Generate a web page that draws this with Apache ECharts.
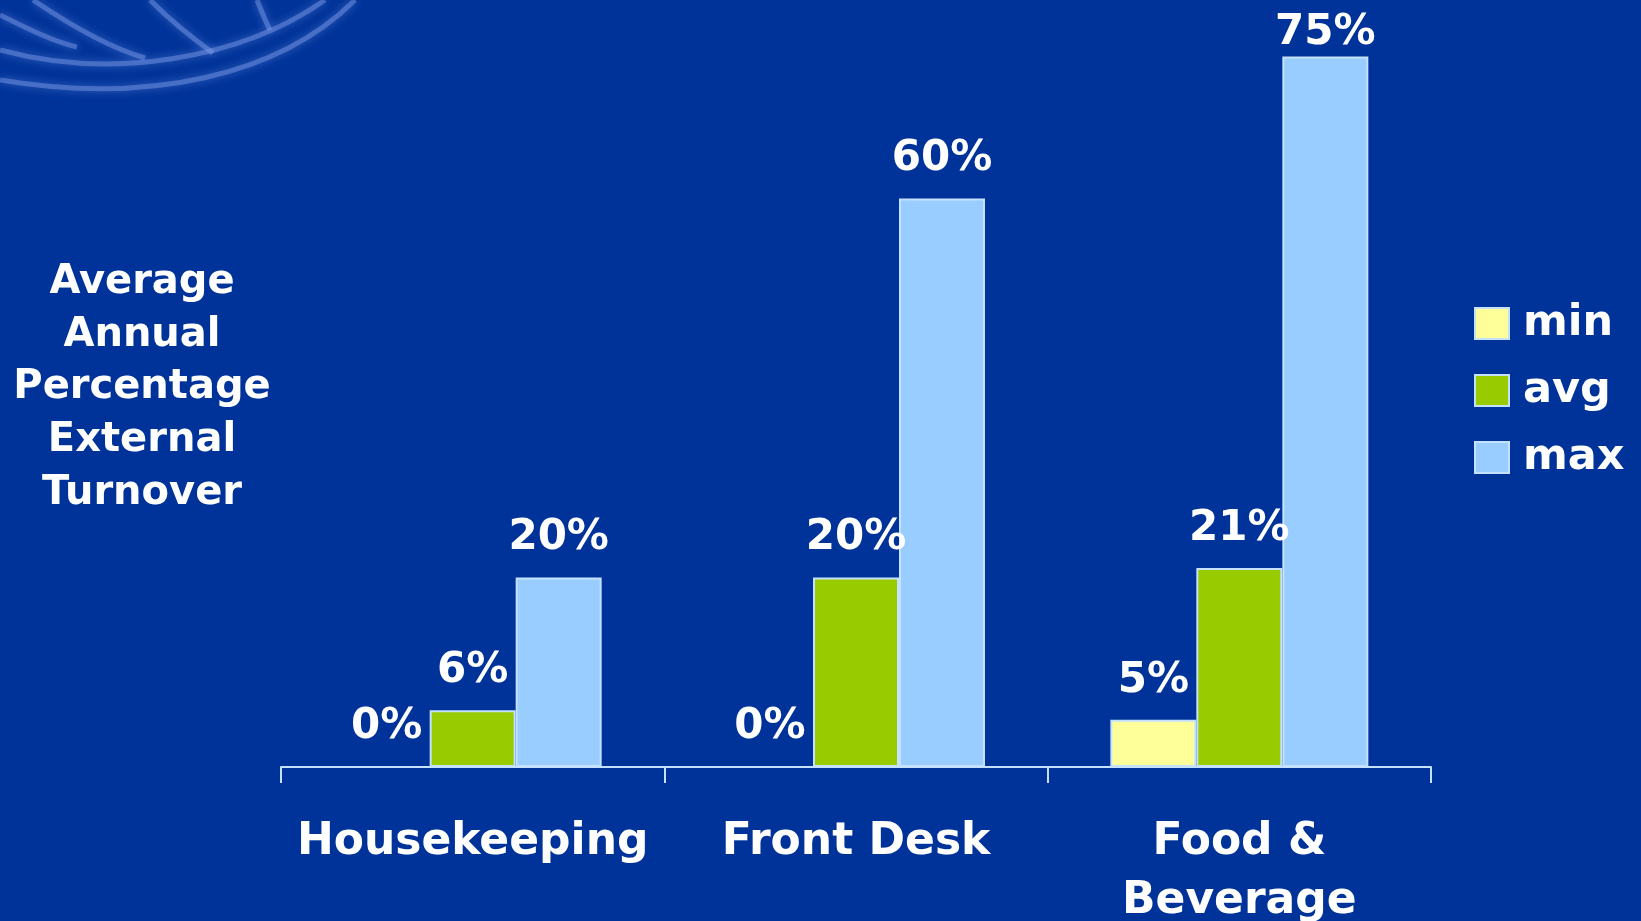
<!DOCTYPE html>
<html>
<head>
<meta charset="utf-8">
<script src="https://cdn.jsdelivr.net/npm/echarts@6/dist/echarts.min.js"></script>
<style>
  html, body { margin: 0; padding: 0; background: #003399; }
  #chart { width: 1641px; height: 921px; }
</style>
</head>
<body>
<div id="chart"></div>
<script>
// Annual external turnover by department: min / avg / max (percent)
const categories = ['Housekeeping', 'Front Desk', 'Food &\nBeverage'];
const minValues = [0, 0, 5];
const avgValues = [6, 20, 21];
const maxValues = [20, 60, 75];
const seriesNames = ['min', 'avg', 'max'];
const yTitle = 'Average\nAnnual\nPercentage\nExternal\nTurnover';

const FONT = 'DejaVu Sans';
const EDGE = '#c4e1ff';
const colors = ['#ffff99', '#99cc00', '#99ccff'];
const Y_MAX = 80;

const chart = echarts.init(document.getElementById('chart'), null, { renderer: 'canvas' });

// value labels sit above each bar; the tallest ones are tucked closer so they stay on the page
function labelDistance(v) {
  return v >= Y_MAX - 6 ? 2 : 18;
}

function barSeries(name, values, color) {
  return {
    name: name,
    type: 'bar',
    data: values.map(function (v) {
      return { value: v, label: { distance: labelDistance(v) } };
    }),
    barWidth: 86,
    barGap: '0%',
    itemStyle: { color: color, borderColor: EDGE, borderWidth: 2 },
    label: {
      show: true,
      position: 'top',
      formatter: '{c}%',
      color: '#ffffff',
      fontFamily: FONT,
      fontWeight: 'bold',
      fontSize: 42
    }
  };
}

// faint, soft decorative strokes in the upper-left corner
const swirl = [
  [[0, 80], [150, 105], [280, 75], [355, 0]],
  [[0, 50], [110, 80], [240, 60], [325, 0]],
  [[0, 15], [30, 30], [55, 42], [77, 47]],
  [[33, 0], [70, 25], [110, 48], [145, 58]],
  [[150, 0], [170, 20], [195, 40], [213, 53]],
  [[257, 0], [261, 10], [265, 20], [270, 30]]
].map(function (p) {
  return {
    type: 'bezierCurve',
    silent: true,
    z: -10,
    shape: { x1: p[0][0], y1: p[0][1], cpx1: p[1][0], cpy1: p[1][1], cpx2: p[2][0], cpy2: p[2][1], x2: p[3][0], y2: p[3][1] },
    style: { stroke: 'rgba(130,160,235,0.45)', lineWidth: 5, fill: null, shadowBlur: 8, shadowColor: 'rgba(150,180,255,0.8)' }
  };
});

chart.setOption({
  backgroundColor: '#003399',
  animation: false,
  graphic: swirl,
  grid: { left: 281, right: 210, top: 9, bottom: 154, containLabel: false, outerBoundsMode: 'none' },
  legend: {
    orient: 'vertical',
    left: 1469,
    top: 297,
    itemWidth: 34,
    itemHeight: 31,
    itemGap: 24,
    icon: 'rect',
    data: seriesNames,
    textStyle: { color: '#ffffff', fontFamily: FONT, fontWeight: 'bold', fontSize: 43, padding: [0, 0, 0, 9] }
  },
  xAxis: {
    type: 'category',
    data: categories,
    axisLine: { show: true, lineStyle: { color: EDGE, width: 2 } },
    axisTick: { show: true, length: 16, lineStyle: { color: EDGE, width: 2 } },
    axisLabel: {
      color: '#ffffff',
      fontFamily: FONT,
      fontWeight: 'bold',
      fontSize: 44,
      lineHeight: 59,
      margin: 46,
      interval: 0
    }
  },
  yAxis: {
    type: 'value',
    min: 0,
    max: Y_MAX,
    interval: 20,
    axisLine: { show: false },
    axisTick: { show: false },
    axisLabel: { show: false },
    splitLine: { show: false },
    name: yTitle,
    nameLocation: 'middle',
    nameRotate: 0,
    nameGap: 139,
    nameTextStyle: {
      color: '#ffffff',
      fontFamily: FONT,
      fontWeight: 'bold',
      fontSize: 40,
      lineHeight: 52.6,
      align: 'center',
      verticalAlign: 'middle'
    }
  },
  series: [
    barSeries(seriesNames[0], minValues, colors[0]),
    barSeries(seriesNames[1], avgValues, colors[1]),
    barSeries(seriesNames[2], maxValues, colors[2])
  ]
});
</script>
</body>
</html>
